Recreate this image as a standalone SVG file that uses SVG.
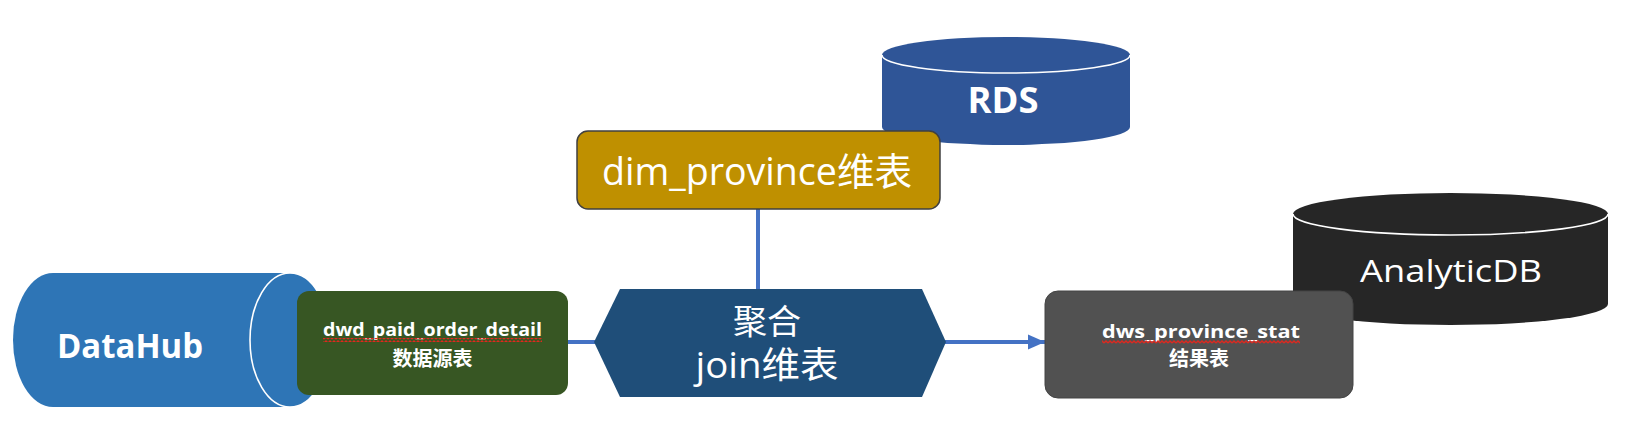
<svg xmlns="http://www.w3.org/2000/svg" width="1632" height="440" viewBox="0 0 1632 440">
<style>
.lbl{fill:#ffffff;font-family:"Open Sans","Noto Sans","Noto Sans CJK SC",sans-serif;text-anchor:middle}
.b{font-weight:bold}
.cjk{fill:#ffffff;font-family:"Noto Sans CJK SC",sans-serif;text-anchor:middle}
.conn{stroke:#4472C4;stroke-width:4;fill:none}
.rim{fill:none;stroke:#ffffff;stroke-width:1.6}
</style>
<defs>
<marker id="arrow" markerUnits="userSpaceOnUse" markerWidth="18" markerHeight="16" refX="17" refY="8" orient="auto">
<path d="M0,0.5 L17,8 L0,15.5 Z" fill="#4472C4"/>
</marker>
<pattern id="squig" width="4" height="4" patternUnits="userSpaceOnUse">
<path d="M0,3 L2,1 L4,3" stroke="#e0281e" stroke-width="1.3" fill="none"/>
</pattern>
</defs>
<rect width="1632" height="440" fill="#ffffff"/>

<g id="datahub">
<path d="M53,273 L290,273 A40,67 0 0 1 290,407 L53,407 A40,67 0 0 1 53,273 Z" fill="#2E75B6"/>
<ellipse class="rim" cx="290" cy="340" rx="40" ry="67"/>
<text class="lbl b" x="130" y="358" font-size="34" textLength="146" lengthAdjust="spacingAndGlyphs">DataHub</text>
</g>

<g id="rds">
<path d="M882,55 L882,127 A124,18 0 0 0 1130,127 L1130,55 Z" fill="#2F5597"/>
<ellipse cx="1006" cy="55" rx="124" ry="18" fill="#2F5597"/>
<path class="rim" d="M882,55 A124,18 0 0 0 1130,55"/>
<text class="lbl b" x="1003" y="113" font-size="35" textLength="71" lengthAdjust="spacingAndGlyphs">RDS</text>
</g>

<g id="analyticdb">
<path d="M1293,214 L1293,304 A157.5,21 0 0 0 1608,304 L1608,214 Z" fill="#262626"/>
<ellipse cx="1450.5" cy="214" rx="157.5" ry="21" fill="#262626"/>
<path class="rim" d="M1293,214 A157.5,21 0 0 0 1608,214"/>
<text class="lbl" x="1451" y="282" font-size="31" textLength="182" lengthAdjust="spacingAndGlyphs">AnalyticDB</text>
</g>

<g id="connectors">
<line class="conn" x1="758" y1="209" x2="758" y2="290"/>
<line class="conn" x1="567" y1="342" x2="596" y2="342"/>
<line class="conn" x1="944" y1="342" x2="1045" y2="342" marker-end="url(#arrow)"/>
</g>

<g id="dim_province">
<rect x="577" y="131" width="363" height="78" rx="11" fill="#BF9000" stroke="#404040" stroke-width="1.5"/>
<text class="lbl" x="757" y="185" font-size="38" textLength="310" lengthAdjust="spacingAndGlyphs">dim_province维表</text>
</g>

<g id="dwd_paid_order_detail">
<rect x="297" y="291" width="271" height="104" rx="12" fill="#375623"/>
<text class="lbl b" x="432.5" y="336" font-size="17" textLength="219" lengthAdjust="spacingAndGlyphs">dwd_paid_order_detail</text>
<rect x="323" y="338" width="219" height="4" fill="url(#squig)"/>
<text class="cjk b" x="432.5" y="366" font-size="20">数据源表</text>
</g>

<g id="join">
<polygon points="594,342 620,289 922,289 946,342 922,397 620,397" fill="#1F4E79"/>
<text class="cjk" x="767" y="334" font-size="34">聚合</text>
<text class="lbl" x="767" y="378" font-size="36" textLength="143" lengthAdjust="spacingAndGlyphs">join维表</text>
</g>

<g id="dws_province_stat">
<rect x="1045" y="291" width="308" height="107" rx="13" fill="#515151" stroke="#444444" stroke-width="1"/>
<text class="lbl b" x="1201" y="338" font-size="17" textLength="198" lengthAdjust="spacingAndGlyphs">dws_province_stat</text>
<rect x="1102" y="340" width="198" height="4" fill="url(#squig)"/>
<text class="cjk b" x="1199" y="366" font-size="20">结果表</text>
</g>
</svg>
